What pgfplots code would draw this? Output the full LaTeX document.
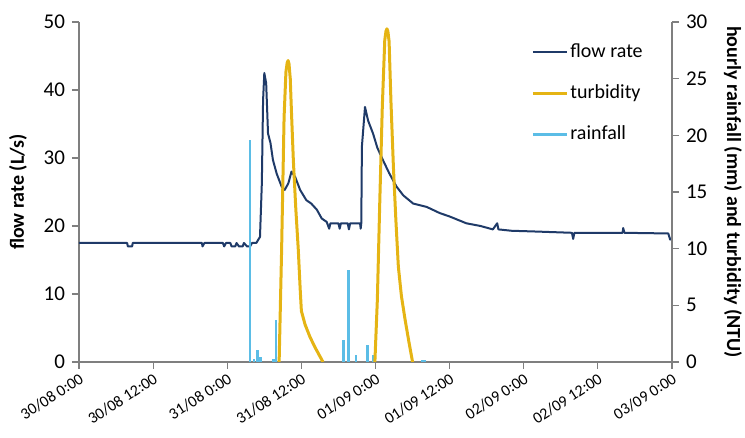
\documentclass[border=0pt]{standalone}
\usepackage{pgfplots}
\pgfplotsset{compat=1.18}
\usepackage{fontspec}
\setmainfont{Carlito}
\definecolor{flowc}{HTML}{1F3A68}
\definecolor{turbc}{HTML}{E5B414}
\definecolor{rainc}{HTML}{5BBDE6}
\definecolor{axc}{HTML}{7F7F7F}
\begin{document}
\begin{tikzpicture}
\pgfplotsset{
  every axis/.append style={
    scale only axis, width=296.5pt, height=170pt,
    at={(0,0)}, anchor=south west,
    xmin=0, xmax=96,
    tick align=outside, major tick length=3.5pt,
    axis line style={axc, line width=0.6pt},
    tick style={axc, line width=0.6pt},
    /pgf/number format/assume math mode=true,
    label style={font=\fontsize{10}{12}\selectfont\bfseries},
  }
}
\begin{axis}[
  axis x line*=bottom, axis y line*=left,
  ymin=0, ymax=50, ytick={0,10,20,30,40,50},
  xtick={0,12,24,36,48,60,72,84,96},
  xticklabels={30/08 0:00,30/08 12:00,31/08 0:00,31/08 12:00,01/09 0:00,01/09 12:00,02/09 0:00,02/09 12:00,03/09 0:00},
  y tick label style={font=\fontsize{10.5}{12}\selectfont},
  x tick label style={font=\fontsize{8}{10}\selectfont, rotate=33, anchor=north east, inner sep=1pt},
  ylabel={flow rate (L/s)},
  ylabel style={at={(axis description cs:-0.103,0.5)}, anchor=center},
]
\addplot[flowc, line width=1pt, line join=round] coordinates {
(0,17.5) (7.8,17.5) (7.9,17.0) (8.6,17.0) (8.7,17.5) (19.9,17.5) (20.0,17.0) (20.3,17.5)
(23.3,17.5) (23.5,17.0) (23.8,17.5) (24.5,17.5) (24.7,17.0) (25.3,17.0) (25.5,17.5)
(25.9,17.0) (26.5,17.0) (26.7,17.5) (27.2,17.0) (27.7,17.0) (28.0,17.5) (28.7,17.5)
(29.3,18.4) (29.6,26.3) (29.8,38.5) (30.0,42.5) (30.3,41.0) (30.5,36.1) (30.6,33.6)
(31.0,32.2) (31.4,29.7) (32.0,27.7) (32.8,25.8) (33.3,25.3) (33.9,26.3) (34.4,28.0)
(35.0,27.2) (35.8,25.3) (36.8,23.8) (37.6,23.3) (38.5,22.4) (39.3,21.1) (40.1,20.6)
(40.5,19.6) (40.7,20.4) (42.0,20.4) (42.2,19.6) (42.4,20.4) (43.5,20.4) (43.7,19.5)
(43.9,20.4) (45.5,20.4) (45.6,19.6) (45.7,20.4) (45.8,31.7) (46.3,37.5) (46.8,35.5)
(47.6,33.6) (48.3,31.5) (49.2,29.7) (50.2,27.8) (51.4,25.8) (52.5,24.5) (54.1,23.3)
(56.3,22.8) (58.4,21.9) (60,21.4) (62.7,20.4) (65,20.0) (67,19.5) (67.7,20.4) (67.9,19.5)
(70,19.3) (73.5,19.2) (79.8,19.0) (80,18.1) (80.2,19.0) (88,19.0) (88.1,19.7) (88.3,19.0)
(95.4,18.9) (95.7,18.0) (96,18.2)
};
\end{axis}
\begin{axis}[
  axis x line=none, axis y line*=right,
  ymin=0, ymax=30, ytick={0,5,10,15,20,25,30},
  y tick label style={font=\fontsize{10.5}{12}\selectfont},
  ylabel={hourly rainfall (mm) and turbidity (NTU)},
  ylabel style={at={(axis description cs:1.103,0.5)}, anchor=center, rotate=180},
  legend style={draw=none, fill=none, at={(axis description cs:0.762,0.944)}, anchor=north west,
    inner sep=0pt, row sep=9.5pt, font=\fontsize{10}{12}\selectfont,
    nodes={inner sep=1pt, text height=7pt, text depth=2pt}},
  legend cell align=left,
]
\addlegendimage{flowc, line width=1pt}
\addlegendentry{flow rate}
\addplot[turbc, line width=1.5pt, line join=round] coordinates {
(32.4,0) (32.8,9.9) (33.2,21.6) (33.5,25.6) (33.7,26.4) (33.85,26.6) (34.0,26.3) (34.2,25.0)
(34.4,22.0) (34.7,17.8) (35.1,13.5) (35.5,9.9) (35.8,6.5) (36.0,4.5) (36.6,3.3) (37.4,2.2)
(38.2,1.3) (39.0,0.5) (39.5,0)
};
\addlegendentry{turbidity}
\addplot[rainc, line width=1.2pt, ycomb,
  legend image code/.code={\draw[rainc, line width=1.2pt] (0cm,0cm) -- (0.6cm,0cm);}] coordinates {
(27.7,19.6) (28.3,0.3) (28.9,1.1) (29.4,0.4) (31.5,0.3) (31.9,3.7) (42.8,1.9) (43.6,8.1)
(44.8,0.6) (46.7,1.5) (47.6,0.6) (55.5,0.2) (55.9,0.2)
};
\addlegendentry{rainfall}
\addplot[turbc, line width=1.5pt, line join=round, forget plot] coordinates {
(47.9,0) (48.3,5.5) (48.7,14.3) (49.1,22.5) (49.5,28.4) (49.7,29.2) (49.85,29.4) (50.0,29.2)
(50.2,28.3) (50.5,23.0) (50.9,17.2) (51.3,12.5) (51.7,8.4) (52.2,5.8) (52.8,3.7) (53.4,1.8)
(54.0,0)
};
\end{axis}
\pgfresetboundingbox
\useasboundingbox (-39.5pt,-38pt) rectangle (333pt,181pt);
\end{tikzpicture}
\end{document}
